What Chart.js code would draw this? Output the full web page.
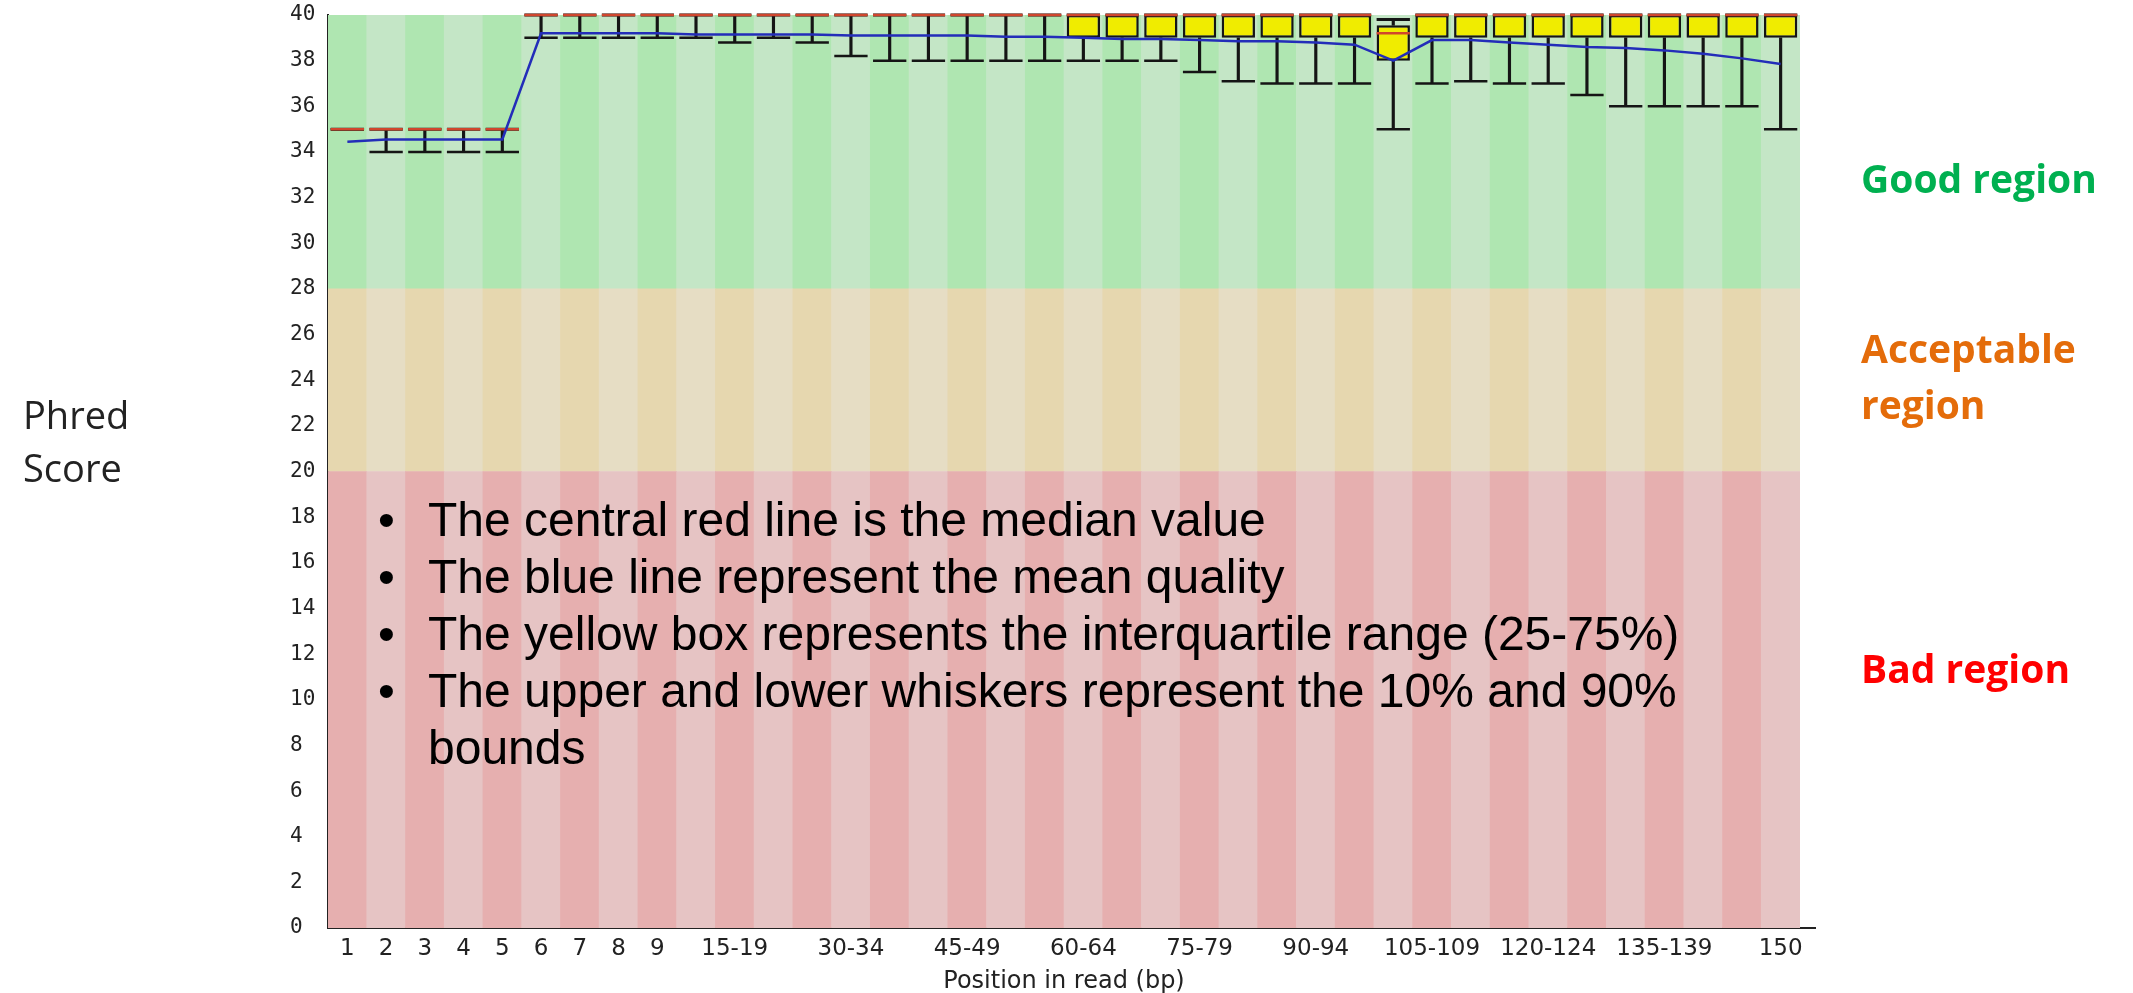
<!DOCTYPE html>
<html>
<head>
<meta charset="utf-8">
<title>Per base sequence quality</title>
<script src="https://cdn.jsdelivr.net/npm/chart.js@4.4.1/dist/chart.umd.min.js"></script>
<style>
  html, body { margin: 0; padding: 0; background: #fff; overflow: hidden; }
  #wrap { position: relative; width: 2133px; height: 993px; }
  #qualityChart { position: absolute; left: 0; top: 0; }
  .note { position: absolute; white-space: nowrap; }
  #yTitle { left: 23px; top: 388px; font-family: 'Open Sans', sans-serif; font-size: 38px; line-height: 53px; color: #222; }
  .region { left: 1861px; font-family: 'Open Sans', sans-serif; font-weight: bold; font-size: 39px; line-height: 56px; }
  #good { top: 150px; color: #00b050; }
  #ok { top: 320px; color: #e46c0a; }
  #bad { top: 640px; color: #ff0000; }
  #legendText { position: absolute; left: 428px; top: 491px; width: 1330px; margin: 0; padding: 0; list-style: none;
    font-family: 'Liberation Sans', Arial, sans-serif; font-size: 48px; line-height: 57px; color: #000; }
  #legendText li { position: relative; }
  #legendText li::before { content: '\2022'; position: absolute; left: -50px; }
</style>
</head>
<body>
<div id="wrap">
  <canvas id="qualityChart" width="2133" height="993"></canvas>
  <div id="yTitle" class="note">Phred<br>Score</div>
  <div id="good" class="note region">Good region</div>
  <div id="ok" class="note region">Acceptable<br>region</div>
  <div id="bad" class="note region">Bad region</div>
  <ul id="legendText">
    <li>The central red line is the median value</li>
    <li>The blue line represent the mean quality</li>
    <li>The yellow box represents the interquartile range (25-75%)</li>
    <li>The upper and lower whiskers represent the 10% and 90% bounds</li>
  </ul>
</div>
<script>
// positions in the read (bp), one box per group
const positions = ['1', '2', '3', '4', '5', '6', '7', '8', '9', '10-14', '15-19', '20-24', '25-29', '30-34',
    '35-39', '40-44', '45-49', '50-54', '55-59', '60-64', '65-69', '70-74', '75-79', '80-84', '85-89',
    '90-94', '95-99', '100-104', '105-109', '110-114', '115-119', '120-124', '125-129', '130-134',
    '135-139', '140-144', '145-149', '150'];

// only these get a label on the x axis
const shownTicks = ['1', '2', '3', '4', '5', '6', '7', '8', '9', '15-19', '30-34', '45-49', '60-64',
    '75-79', '90-94', '105-109', '120-124', '135-139', '150'];

// bad / acceptable / good bands
const regionLimits = [0, 20, 28, 40];

const meanQuality = [34.45, 34.55, 34.55, 34.55, 34.55, 39.2, 39.2, 39.2, 39.2, 39.15, 39.15, 39.15, 39.15,
    39.1, 39.1, 39.1, 39.1, 39.05, 39.05, 39.0, 38.95, 38.95, 38.9, 38.85, 38.85, 38.8, 38.7, 38.0,
    38.9, 38.9, 38.8, 38.7, 38.6, 38.55, 38.45, 38.3, 38.1, 37.85];

const medianQuality = [35, 35, 35, 35, 35, 40, 40, 40, 40, 40, 40, 40, 40, 40, 40, 40, 40, 40, 40,
    40, 40, 40, 40, 40, 40, 40, 40, 39.2, 40, 40, 40, 40, 40, 40, 40, 40, 40, 40];

const lowerQuartile = [35, 35, 35, 35, 35, 40, 40, 40, 40, 40, 40, 40, 40, 40, 40, 40, 40, 40, 40,
    39, 39, 39, 39, 39, 39, 39, 39, 38, 39, 39, 39, 39, 39, 39, 39, 39, 39, 39];

const upperQuartile = [35, 35, 35, 35, 35, 40, 40, 40, 40, 40, 40, 40, 40, 40, 40, 40, 40, 40, 40,
    40, 40, 40, 40, 40, 40, 40, 40, 39.55, 40, 40, 40, 40, 40, 40, 40, 40, 40, 40];

const lowerWhisker = [35, 34, 34, 34, 34, 39, 39, 39, 39, 39, 38.8, 39, 38.8, 38.2, 38, 38, 38, 38, 38,
    38, 38, 38, 37.5, 37.1, 37, 37, 37, 35, 37, 37.1, 37, 37, 36.5, 36, 36, 36, 36, 35];

const upperWhisker = [35, 35, 35, 35, 35, 40, 40, 40, 40, 40, 40, 40, 40, 40, 40, 40, 40, 40, 40,
    40, 40, 40, 40, 40, 40, 40, 40, 39.8, 40, 40, 40, 40, 40, 40, 40, 40, 40, 40];

// alternating column shading
function stripes(dark, light) {
    return positions.map((p, i) => i % 2 === 0 ? dark : light);
}

// half of a box width, in pixels, for the cap / median ticks
function halfBox(ctx) {
    const x = ctx.chart.scales.x;
    return x.width / positions.length * 0.43;
}

function band(lo, hi, dark, light) {
    return {
        type: 'bar',
        data: positions.map(() => [regionLimits[lo], regionLimits[hi]]),
        backgroundColor: stripes(dark, light),
        grouped: false,
        barPercentage: 1,
        categoryPercentage: 1,
        order: 10
    };
}

// the x axis line runs a little past the last column
const axisTail = {
    id: 'axisTail',
    afterDraw(chart) {
        const area = chart.chartArea;
        const c = chart.ctx;
        c.save();
        c.strokeStyle = '#222';
        c.lineWidth = 2;
        c.beginPath();
        c.moveTo(area.right, area.bottom);
        c.lineTo(area.right + 16, area.bottom);
        c.stroke();
        c.restore();
    }
};

const ctx = document.getElementById('qualityChart').getContext('2d');
new Chart(ctx, {
    type: 'bar',
    data: {
        labels: positions,
        datasets: [
            band(0, 1, 'rgb(230,175,175)', 'rgb(230,196,196)'),
            band(1, 2, 'rgb(230,215,175)', 'rgb(230,221,196)'),
            band(2, 3, 'rgb(175,230,177)', 'rgb(196,230,198)'),
            {
                // whisker stems
                type: 'bar',
                data: positions.map((p, i) => lowerWhisker[i] < lowerQuartile[i] ? [lowerWhisker[i], lowerQuartile[i]] : null),
                backgroundColor: '#151515',
                barThickness: 2.5,
                grouped: false,
                order: 7
            },
            {
                type: 'bar',
                data: positions.map((p, i) => upperQuartile[i] < upperWhisker[i] ? [upperQuartile[i], upperWhisker[i]] : null),
                backgroundColor: '#151515',
                barThickness: 2.5,
                grouped: false,
                order: 7
            },
            {
                // whisker caps
                type: 'line',
                data: lowerWhisker,
                showLine: false,
                pointStyle: 'line',
                pointRadius: halfBox,
                pointBorderWidth: 2.5,
                pointBorderColor: '#151515',
                order: 6,
                clip: false
            },
            {
                type: 'line',
                data: upperWhisker,
                showLine: false,
                pointStyle: 'line',
                pointRadius: halfBox,
                pointBorderWidth: 3,
                pointBorderColor: '#151515',
                order: 6,
                clip: false
            },
            {
                // interquartile box
                type: 'bar',
                data: positions.map((p, i) => lowerQuartile[i] < upperQuartile[i] ? [lowerQuartile[i], upperQuartile[i]] : null),
                backgroundColor: 'rgb(240,236,0)',
                borderColor: '#151515',
                borderWidth: 2.5,
                borderSkipped: false,
                grouped: false,
                barPercentage: 0.86,
                categoryPercentage: 1,
                order: 4,
                clip: false
            },
            {
                // median
                type: 'line',
                data: medianQuality,
                showLine: false,
                pointStyle: 'line',
                pointRadius: halfBox,
                pointBorderWidth: 2.5,
                pointBorderColor: 'rgb(208,70,45)',
                order: 2,
                clip: false
            },
            {
                // mean
                type: 'line',
                data: meanQuality,
                borderColor: 'rgb(35,45,185)',
                borderWidth: 2.5,
                pointRadius: 0,
                tension: 0,
                fill: false,
                order: 1,
                clip: false
            }
        ]
    },
    options: {
        responsive: false,
        animation: false,
        events: [],
        layout: {
            padding: { left: 290, right: 333, top: 15, bottom: 0 }
        },
        plugins: {
            legend: { display: false },
            tooltip: { enabled: false }
        },
        scales: {
            x: {
                grid: { display: false, drawTicks: false },
                border: { color: '#222', width: 2 },
                ticks: {
                    autoSkip: false,
                    maxRotation: 0,
                    minRotation: 0,
                    padding: 7,
                    color: '#222',
                    font: { family: 'DejaVu Sans', size: 23 },
                    callback: function(value) {
                        const label = this.getLabelForValue(value);
                        return shownTicks.includes(label) ? label : '';
                    }
                },
                title: {
                    display: true,
                    text: 'Position in read (bp)',
                    color: '#222',
                    font: { family: 'DejaVu Sans', size: 24 },
                    padding: { top: 0, bottom: -3 }
                },
                afterFit: function(scale) {
                    scale.height = 65;
                }
            },
            y: {
                min: 0,
                max: 40,
                grid: { display: false, drawTicks: false },
                border: { color: '#222', width: 2 },
                ticks: {
                    stepSize: 2,
                    crossAlign: 'far',
                    padding: 0,
                    color: '#222',
                    font: { family: 'DejaVu Sans Mono', size: 21 }
                },
                afterFit: function(scale) {
                    scale.width = 38;
                }
            }
        }
    },
    plugins: [axisTail]
});
</script>
</body>
</html>
